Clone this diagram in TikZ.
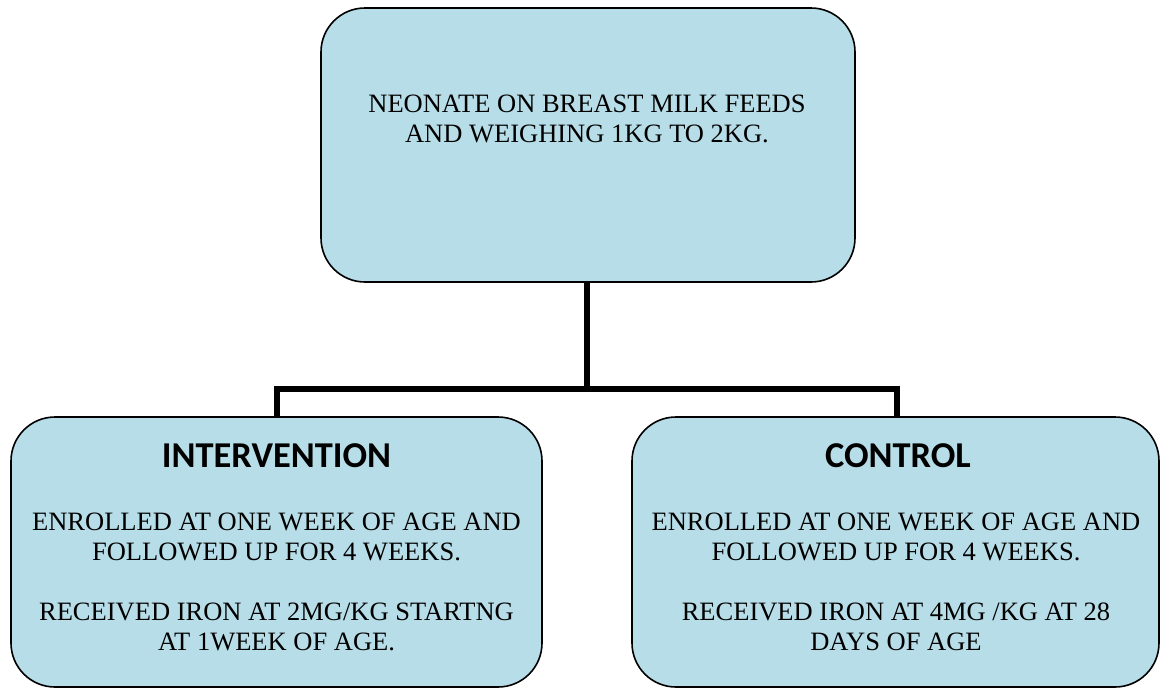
\documentclass[tikz,border=0pt]{standalone}
\usepackage{fontspec}
\setmainfont{Liberation Serif}
\newfontfamily\headfont{Carlito}
\definecolor{boxfill}{HTML}{B7DEE8}
\begin{document}
\begin{tikzpicture}[x=1pt,y=-1pt,
  box/.style={draw=black,line width=1.6pt,fill=boxfill,rounded corners=44pt,inner sep=0pt},
  body/.style={font=\fontsize{26.5}{30}\selectfont,align=center,inner sep=0pt},
  head/.style={font=\headfont\bfseries\fontsize{36.4}{40}\selectfont,inner sep=0pt},
  link/.style={line width=6pt,draw=black}]
\useasboundingbox (0,0) rectangle (1160,689);
\node[box,minimum width=534pt,minimum height=274pt] (top) at (588,145) {};
\node[box,minimum width=531pt,minimum height=270pt] (left) at (276.5,552) {};
\node[box,minimum width=527pt,minimum height=270pt] (right) at (895.5,552) {};
\coordinate (j) at (587,389);
\coordinate (jl) at (277,389);
\coordinate (jr) at (897,389);
\draw[link] (top.south -| j) -- (j);
\draw[link] (left.north -| jl) -- (jl) -- (jr) -- (right.north -| jr);
\node[body] (t1) at (587,119) {NEONATE ON BREAST MILK FEEDS\\AND WEIGHING 1KG TO 2KG.};
\node[head] (lh) at (276.5,456) {INTERVENTION};
\node[body] (l1) at (276.5,537) {ENROLLED AT ONE WEEK OF AGE AND\\FOLLOWED UP FOR 4 WEEKS.};
\node[body] (l2) at (276.5,627) {RECEIVED IRON AT 2MG/KG STARTNG\\AT 1WEEK OF AGE.};
\node[head] (rh) at (898,456) {CONTROL};
\node[body] (r1) at (896,537) {ENROLLED AT ONE WEEK OF AGE AND\\FOLLOWED UP FOR 4 WEEKS.};
\node[body] (r2) at (896,627) {RECEIVED IRON AT 4MG /KG AT 28\\DAYS OF AGE};
\end{tikzpicture}
\end{document}
